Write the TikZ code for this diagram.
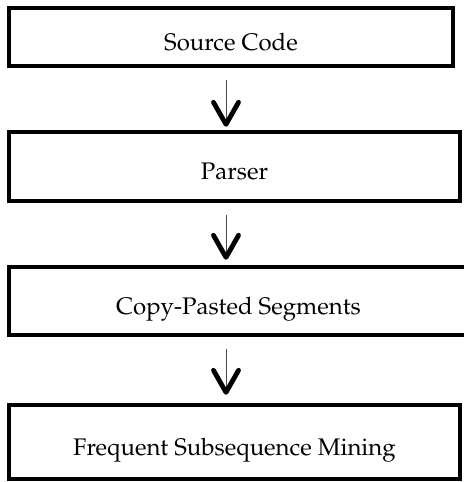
\documentclass[tikz,border=0pt]{standalone}
\usepackage[T1]{fontenc}
\usepackage{mathpazo}
\usetikzlibrary{arrows.meta}
\definecolor{shaftgray}{rgb}{0.3,0.3,0.3}
\tikzset{
    stage/.style={draw=black,line width=2.25pt,fill=white,inner sep=0pt,text height=15pt,text depth=1.6pt,font=\fontsize{12}{14}\selectfont},
    flow/.style={draw=shaftgray,line width=0.5pt,shorten <=6pt,-{Straight Barb[length=11pt,width=12.5pt,line width=2.4pt,round,black]}}
}

\begin{document}
\begin{tikzpicture}[x=0.5pt,y=-0.5pt]
        \useasboundingbox (0,0) rectangle (463,482);
        \coordinate (axis) at (226,0); % all arrows run down this line
        \foreach \name/\x/\y/\w/\h/\txt in {src/231/37/222/29/Source Code, parser/234.5/166.5/225.5/34.5/Parser, seg/238.5/301/229.5/34/Copy-Pasted Segments, mining/234.5/442/225.5/37/Frequent Subsequence Mining}{
            \node[stage,minimum width=\w pt,minimum height=\h pt] (\name) at (\x,\y) {\txt};
        }
        \foreach \a/\b/\gap in {src/parser/1.5, parser/seg/2.5, seg/mining/4}{
            \draw[flow,shorten >=\gap pt] (\a.south -| axis) -- (\b.north -| axis);
        }
    \end{tikzpicture}
\end{document}
